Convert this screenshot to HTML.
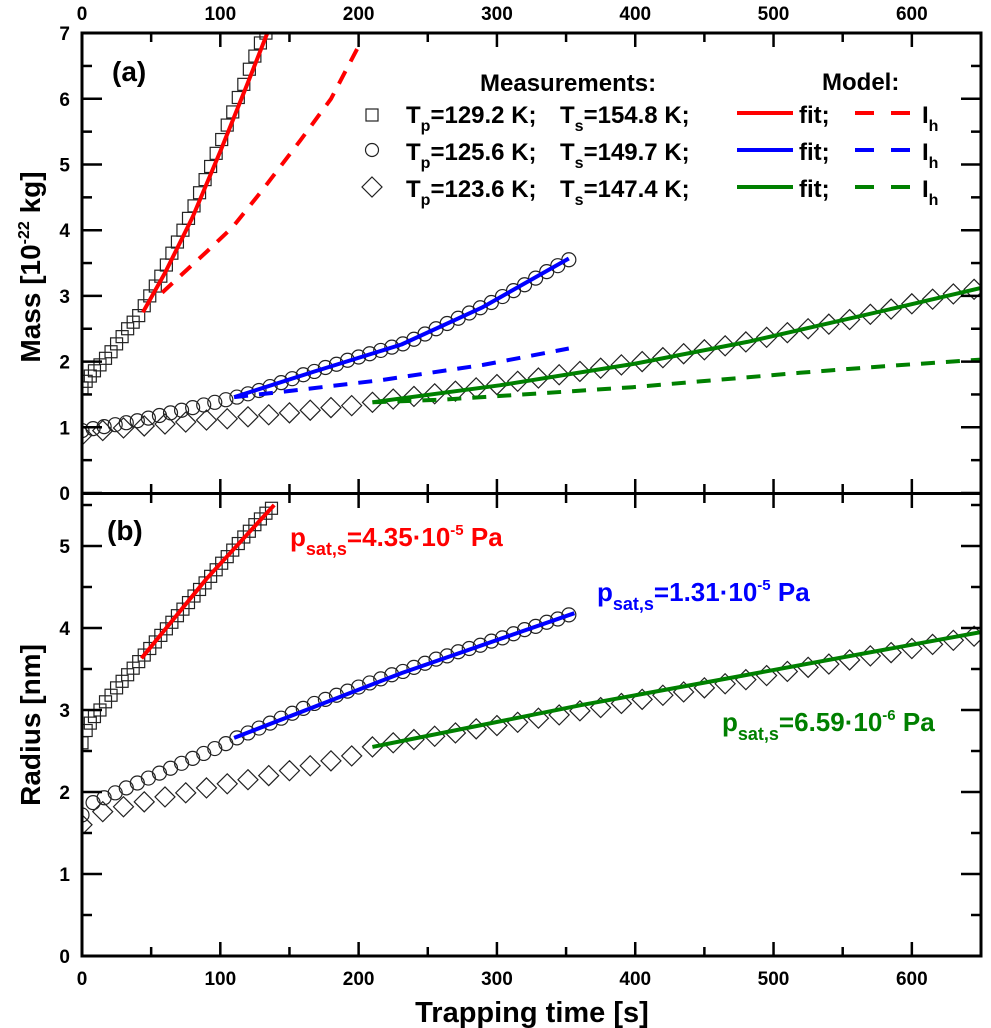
<!DOCTYPE html>
<html><head><meta charset="utf-8"><style>
html,body{margin:0;padding:0;background:#fff;}
svg{display:block;font-family:"Liberation Sans",Arial,sans-serif;font-weight:bold;}
</style></head><body>
<svg id="chart" width="991" height="1028" viewBox="0 0 991 1028" xmlns="http://www.w3.org/2000/svg"></svg>
<script>
const xTicks=[0,100,200,300,400,500,600];
const massTicks=[0,1,2,3,4,5,6,7];
const radiusTicks=[0,1,2,3,4,5];
const tSq=[0,3,6,9,13,17,21,25,29,33,37,41,45,49,53,57,61,65,69,73,77,81,85,89,93,97,101,105,109,113,117,121,125,129,133,137];
const massSq=[1.6,1.7,1.78,1.86,1.95,2.05,2.15,2.27,2.38,2.5,2.6,2.7,2.85,3.0,3.15,3.3,3.47,3.65,3.82,4.0,4.18,4.37,4.57,4.77,4.97,5.17,5.38,5.6,5.8,6.02,6.22,6.45,6.65,6.85,7.0,7.2];
const radSq=[2.6,2.75,2.84,2.92,3.0,3.1,3.18,3.27,3.35,3.43,3.51,3.59,3.67,3.75,3.83,3.91,3.99,4.07,4.15,4.23,4.31,4.39,4.47,4.55,4.63,4.71,4.79,4.87,4.95,5.03,5.11,5.18,5.26,5.33,5.4,5.46];
const tCi=[0,8,16,24,32,40,48,56,64,72,80,88,96,104,112,120,128,136,144,152,160,168,176,184,192,200,208,216,224,232,240,248,256,264,272,280,288,296,304,312,320,328,336,344,352];
const massCi=[0.95,0.98,1.01,1.04,1.07,1.1,1.14,1.18,1.22,1.26,1.3,1.34,1.38,1.42,1.46,1.51,1.56,1.62,1.68,1.74,1.8,1.85,1.91,1.96,2.02,2.07,2.12,2.17,2.22,2.27,2.34,2.42,2.5,2.58,2.66,2.74,2.82,2.9,2.99,3.08,3.17,3.27,3.37,3.46,3.55];
const radCi=[1.72,1.87,1.93,1.99,2.05,2.11,2.17,2.23,2.29,2.35,2.41,2.47,2.53,2.59,2.66,2.72,2.78,2.84,2.9,2.96,3.02,3.08,3.13,3.18,3.23,3.28,3.33,3.38,3.43,3.47,3.52,3.57,3.62,3.66,3.71,3.75,3.79,3.84,3.88,3.93,3.98,4.02,4.07,4.11,4.16];
const tDi=[0,15,30,45,60,75,90,105,120,135,150,165,180,195,210,225,240,255,270,285,300,315,330,345,360,375,390,405,420,435,450,465,480,495,510,525,540,555,570,585,600,615,630,645];
const massDi=[0.88,0.95,0.99,1.02,1.05,1.08,1.11,1.13,1.16,1.19,1.22,1.26,1.3,1.33,1.38,1.43,1.47,1.51,1.55,1.6,1.65,1.7,1.75,1.8,1.85,1.9,1.95,2.0,2.06,2.12,2.18,2.24,2.3,2.37,2.44,2.5,2.57,2.64,2.72,2.8,2.88,2.95,3.03,3.1];
const radDi=[1.6,1.76,1.82,1.88,1.94,1.99,2.05,2.1,2.15,2.2,2.26,2.32,2.38,2.44,2.55,2.6,2.64,2.68,2.72,2.77,2.81,2.85,2.9,2.94,2.99,3.03,3.08,3.13,3.18,3.22,3.27,3.32,3.37,3.42,3.47,3.52,3.56,3.61,3.66,3.7,3.75,3.8,3.85,3.9];
const tRedFit=[44,60,80,100,120,134];
const mRedFit=[2.75,3.35,4.2,5.2,6.25,7.0];
const tRedIh=[58,76,90,109,130,158,180,200];
const mRedIh=[3.05,3.4,3.67,4.05,4.6,5.37,6.0,6.8];
const tBlueFit=[110,168,231,289,352];
const mBlueFit=[1.46,1.85,2.26,2.82,3.57];
const tBlueIh=[110,145,217,290,352];
const mBlueIh=[1.46,1.54,1.72,1.95,2.2];
const tGreenFit=[210,302,400,481,591,650];
const mGreenFit=[1.38,1.64,1.97,2.3,2.83,3.12];
const tGreenIh=[210,260,312,398,519,580,650];
const mGreenIh=[1.38,1.42,1.49,1.61,1.83,1.93,2.03];
const tRedR=[43,90,139];
const rRedR=[3.63,4.6,5.5];
const tBlueR=[110,231,356];
const rBlueR=[2.66,3.45,4.18];
const tGreenR=[210,361,650];
const rGreenR=[2.55,3.06,3.95];

const NS="http://www.w3.org/2000/svg";
const svg=document.getElementById('chart');
const X0=82,X1=981;
const xs=t=>X0+(X1-X0)*t/650;
const yA=m=>493-m*65.7;
const yB=r=>956-r*82;
function el(tag,attrs,parent){const e=document.createElementNS(NS,tag);for(const k in attrs)e.setAttribute(k,attrs[k]);(parent||svg).appendChild(e);return e;}
function txt(x,y,s,attrs){const e=el('text',Object.assign({x:x,y:y},attrs||{}));e.textContent=s;return e;}

const defs=el('defs',{});
const cA=el('clipPath',{id:'clipA'},defs);el('rect',{x:X0,y:33,width:X1-X0,height:460},cA);
const cB=el('clipPath',{id:'clipB'},defs);el('rect',{x:X0,y:494,width:X1-X0,height:462},cB);
const gA=el('g',{'clip-path':'url(#clipA)'});


const gB=el('g',{'clip-path':'url(#clipB)'});



function marker(g,type,cx,cy){
  let e;
  if(type==='sq') e=el('rect',{x:cx-6,y:cy-6,width:12,height:12,fill:'none',stroke:'#222','stroke-width':1.2},g);
  else if(type==='ci') e=el('circle',{cx:cx,cy:cy,r:7,fill:'none',stroke:'#222','stroke-width':1.2},g);
  else e=el('path',{d:`M${cx} ${cy-10}L${cx+10} ${cy}L${cx} ${cy+10}L${cx-10} ${cy}Z`,fill:'none',stroke:'#222','stroke-width':1.2},g);
  return e;
}
function series(g,type,ts,vs,ymap,name){
  for(let i=0;i<ts.length;i++){
    const m=marker(g,type,xs(ts[i]),ymap(vs[i]));
    
    
  }
}
function line(g,ts,vs,ymap,color,dash,name){
  let d='';
  for(let i=0;i<ts.length;i++) d+=(i?'L':'M')+xs(ts[i]).toFixed(1)+' '+ymap(vs[i]).toFixed(1);
  const p=el('path',{d:d,fill:'none',stroke:color,'stroke-width':4,'stroke-linejoin':'round'},g);
  if(dash) p.setAttribute('stroke-dasharray','14 11');
  
  
}
series(gA,'sq',tSq,massSq,yA,'square-marker');
series(gA,'ci',tCi,massCi,yA,'circle-marker');
series(gA,'di',tDi,massDi,yA,'diamond-marker');
line(gA,tRedIh,mRedIh,yA,'#ff0000',true,'red-ih-line');
line(gA,tBlueIh,mBlueIh,yA,'#0000ff',true,'blue-ih-line');
line(gA,tGreenIh,mGreenIh,yA,'#008000',true,'green-ih-line');
line(gA,tRedFit,mRedFit,yA,'#ff0000',false,'red-fit-line');
line(gA,tBlueFit,mBlueFit,yA,'#0000ff',false,'blue-fit-line');
line(gA,tGreenFit,mGreenFit,yA,'#008000',false,'green-fit-line');
series(gB,'sq',tSq,radSq,yB,'square-marker');
series(gB,'ci',tCi,radCi,yB,'circle-marker');
series(gB,'di',tDi,radDi,yB,'diamond-marker');
line(gB,tRedR,rRedR,yB,'#ff0000',false,'red-fit-line');
line(gB,tBlueR,rBlueR,yB,'#0000ff',false,'blue-fit-line');
line(gB,tGreenR,rGreenR,yB,'#008000',false,'green-fit-line');

el('rect',{x:X0,y:33,width:X1-X0,height:923,fill:'none',stroke:'#000','stroke-width':3});
el('line',{x1:X0,y1:493.5,x2:X1,y2:493.5,stroke:'#000','stroke-width':3});
for(let t=0;t<=650;t+=50){
  const major=t%100===0, L=major?14:9, x=xs(t);
  el('line',{x1:x,y1:956,x2:x,y2:956-L,stroke:'#000','stroke-width':2.5});
  el('line',{x1:x,y1:33,x2:x,y2:33+L,stroke:'#000','stroke-width':2.5});
  el('line',{x1:x,y1:494,x2:x,y2:494+L,stroke:'#000','stroke-width':2.5});
  el('line',{x1:x,y1:493,x2:x,y2:493-L,stroke:'#000','stroke-width':2.5});
}
xTicks.forEach(t=>{
  const a=txt(xs(t),985,String(t),{'font-size':19,'text-anchor':'middle'});
  
  
  const b=txt(xs(t),20,String(t),{'font-size':19,'text-anchor':'middle'});
  
  
});
for(let v=0;v<=7;v+=0.5){
  const L=(v%1===0)?20:10, y=yA(v);
  el('line',{x1:X0,y1:y,x2:X0+L,y2:y,stroke:'#000','stroke-width':2.5});
  el('line',{x1:X1,y1:y,x2:X1-L,y2:y,stroke:'#000','stroke-width':2.5});
}
massTicks.forEach(v=>{
  const e=txt(70,yA(v)+7,String(v),{'font-size':19,'text-anchor':'end'});
  
  
});
for(let v=0;v<=5.5;v+=0.5){
  const L=(v%1===0)?20:10, y=yB(v);
  el('line',{x1:X0,y1:y,x2:X0+L,y2:y,stroke:'#000','stroke-width':2.5});
  el('line',{x1:X1,y1:y,x2:X1-L,y2:y,stroke:'#000','stroke-width':2.5});
}
radiusTicks.forEach(v=>{
  const e=txt(70,yB(v)+7,String(v),{'font-size':19,'text-anchor':'end'});
  
  
});
</script>
<svg width="991" height="1028" style="position:absolute;left:0;top:0;font-family:'Liberation Sans',Arial,sans-serif;font-weight:bold">
  <text x="532" y="1022" font-size="29" text-anchor="middle">Trapping time [s]</text>
  <text transform="translate(40,267) rotate(-90)" font-size="28" text-anchor="middle">Mass [10<tspan dy="-11" font-size="16">-22</tspan><tspan dy="11"> kg]</tspan></text>
  <text transform="translate(40,725) rotate(-90)" font-size="28" text-anchor="middle">Radius [nm]</text>
  <text x="112" y="81" font-size="28">(a)</text>
  <text x="107" y="540" font-size="28">(b)</text>
  <text x="480" y="91" font-size="24">Measurements:</text>
  <text x="822" y="90" font-size="24">Model:</text>
  <g font-size="24">
    <rect x="366" y="109" width="12" height="12" fill="none" stroke="#222" stroke-width="1.2"/>
    <text x="406" y="123">T<tspan dy="8" font-size="16">p</tspan><tspan dy="-8">=129.2 K;</tspan></text>
    <text x="560" y="123">T<tspan dy="8" font-size="16">s</tspan><tspan dy="-8">=154.8 K;</tspan></text>
    <line x1="737" y1="113" x2="793" y2="113" stroke="#ff0000" stroke-width="4"/>
    <text x="799" y="123">fit;</text>
    <line x1="855" y1="113" x2="910" y2="113" stroke="#ff0000" stroke-width="4" stroke-dasharray="19 17"/>
    <text x="922" y="123">I<tspan dy="8" font-size="16">h</tspan></text>
  </g>
  <g font-size="24">
    <circle cx="372" cy="150" r="6.5" fill="none" stroke="#222" stroke-width="1.2"/>
    <text x="406" y="160">T<tspan dy="8" font-size="16">p</tspan><tspan dy="-8">=125.6 K;</tspan></text>
    <text x="560" y="160">T<tspan dy="8" font-size="16">s</tspan><tspan dy="-8">=149.7 K;</tspan></text>
    <line x1="737" y1="150" x2="793" y2="150" stroke="#0000ff" stroke-width="4"/>
    <text x="799" y="160">fit;</text>
    <line x1="855" y1="150" x2="910" y2="150" stroke="#0000ff" stroke-width="4" stroke-dasharray="19 17"/>
    <text x="922" y="160">I<tspan dy="8" font-size="16">h</tspan></text>
  </g>
  <g font-size="24">
    <path d="M372 177L382 187L372 197L362 187Z" fill="none" stroke="#222" stroke-width="1.2"/>
    <text x="406" y="197">T<tspan dy="8" font-size="16">p</tspan><tspan dy="-8">=123.6 K;</tspan></text>
    <text x="560" y="197">T<tspan dy="8" font-size="16">s</tspan><tspan dy="-8">=147.4 K;</tspan></text>
    <line x1="737" y1="187" x2="793" y2="187" stroke="#008000" stroke-width="4"/>
    <text x="799" y="197">fit;</text>
    <line x1="855" y1="187" x2="910" y2="187" stroke="#008000" stroke-width="4" stroke-dasharray="19 17"/>
    <text x="922" y="197">I<tspan dy="8" font-size="16">h</tspan></text>
  </g>
  <text x="290" y="546" font-size="26" fill="#ff0000">p<tspan dy="9" font-size="18">sat,s</tspan><tspan dy="-9">=4.35·10</tspan><tspan dy="-11" font-size="15">-5</tspan><tspan dy="11"> Pa</tspan></text>
  <text x="597" y="601" font-size="26" fill="#0000ff">p<tspan dy="9" font-size="18">sat,s</tspan><tspan dy="-9">=1.31·10</tspan><tspan dy="-11" font-size="15">-5</tspan><tspan dy="11"> Pa</tspan></text>
  <text x="722" y="731" font-size="26" fill="#008000">p<tspan dy="9" font-size="18">sat,s</tspan><tspan dy="-9">=6.59·10</tspan><tspan dy="-11" font-size="15">-6</tspan><tspan dy="11"> Pa</tspan></text>
</svg>
</body></html>
